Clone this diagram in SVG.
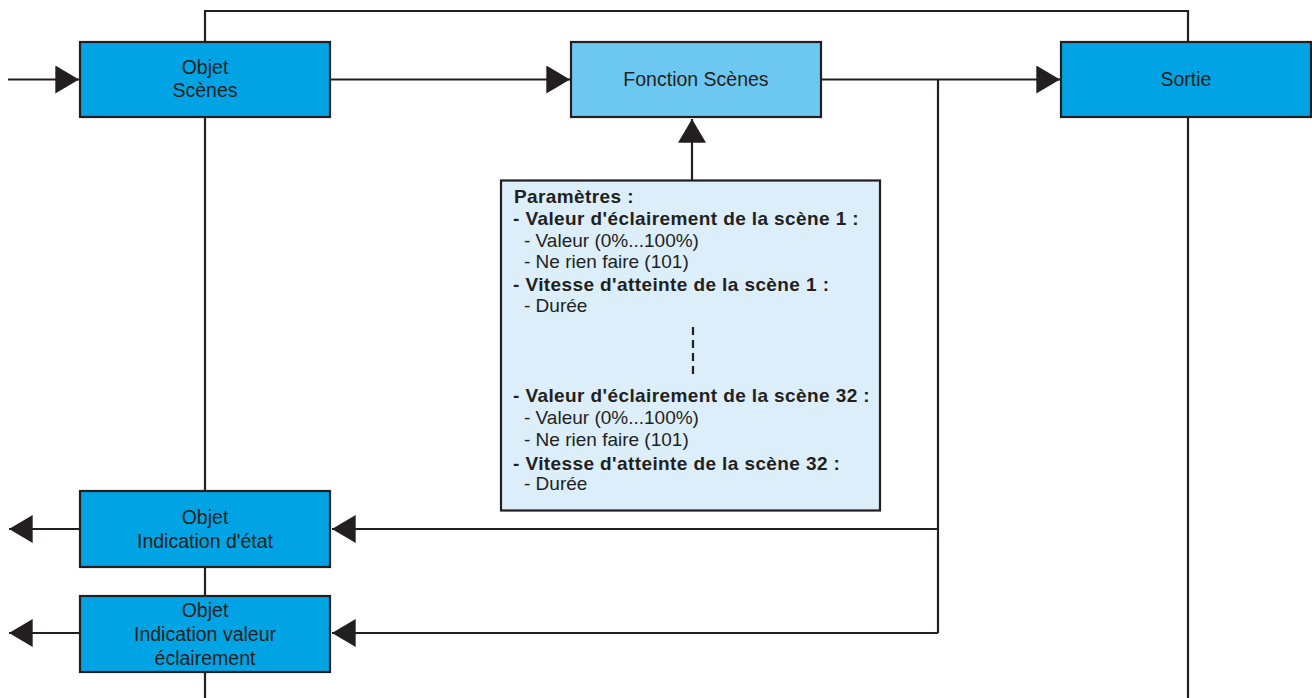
<svg xmlns="http://www.w3.org/2000/svg" width="1312" height="698" viewBox="0 0 1312 698">
<defs>
<style>
.ln{fill:none;stroke:#231F20;stroke-width:2.2}
.box{stroke:#231F20;stroke-width:2.2}
.dark{fill:#00A3E4}
.light{fill:#6DC8F1}
.param{fill:#DCEEFA}
.t{font-family:"Liberation Sans",Arial,sans-serif;font-size:19.5px;fill:#231F20;text-anchor:middle}
.p{font-family:"Liberation Sans",Arial,sans-serif;font-size:19px;fill:#231F20}
.b{font-weight:bold;letter-spacing:0.4px}
</style>
<marker id="arr" markerUnits="userSpaceOnUse" markerWidth="24" markerHeight="28" viewBox="0 0 22 26" refX="22" refY="13" orient="auto">
<path d="M0,0 L22,13 L0,26 Z" fill="#231F20"/>
</marker>
</defs>
<rect width="1312" height="698" fill="#FFFFFF"/>
<g id="connectors">
<path class="ln" d="M205,698 V11 H1188 V698"/>
<path class="ln" d="M8,79.5 H79" marker-end="url(#arr)"/>
<path class="ln" d="M330,79.5 H570" marker-end="url(#arr)"/>
<path class="ln" d="M821,79.5 H1060" marker-end="url(#arr)"/>
<path class="ln" d="M938,79.5 V633"/>
<path class="ln" d="M938,529 H332" marker-end="url(#arr)"/>
<path class="ln" d="M938,633 H332" marker-end="url(#arr)"/>
<path class="ln" d="M80,529 H9" marker-end="url(#arr)"/>
<path class="ln" d="M80,633 H9" marker-end="url(#arr)"/>
<path class="ln" d="M692,180 V119" marker-end="url(#arr)"/>
</g>
<g id="objet-scenes">
<rect class="box dark" x="80" y="42" width="250" height="75"/>
<text class="t" x="205" y="74">Objet</text>
<text class="t" x="205" y="97">Scènes</text>
</g>
<g id="fonction-scenes">
<rect class="box light" x="571" y="42" width="250" height="75"/>
<text class="t" x="696" y="86">Fonction Scènes</text>
</g>
<g id="sortie">
<rect class="box dark" x="1061" y="42" width="250" height="75"/>
<text class="t" x="1186" y="86">Sortie</text>
</g>
<g id="parametres">
<rect class="box param" x="501" y="180.5" width="379" height="330"/>
<text class="p b" x="514" y="202.5">Paramètres :</text>
<text class="p b" x="513" y="225">- Valeur d'éclairement de la scène 1 :</text>
<text class="p" x="524" y="246.5">- Valeur (0%...100%)</text>
<text class="p" x="524" y="268">- Ne rien faire (101)</text>
<text class="p b" x="513" y="291">- Vitesse d'atteinte de la scène 1 :</text>
<text class="p" x="524" y="311.5">- Durée</text>
<path d="M693,327 V375" fill="none" stroke="#231F20" stroke-width="2.2" stroke-dasharray="8,5"/>
<text class="p b" x="513" y="401.5">- Valeur d'éclairement de la scène 32 :</text>
<text class="p" x="524" y="424">- Valeur (0%...100%)</text>
<text class="p" x="524" y="446">- Ne rien faire (101)</text>
<text class="p b" x="513" y="469.5">- Vitesse d'atteinte de la scène 32 :</text>
<text class="p" x="524" y="490">- Durée</text>
</g>
<g id="indication-etat">
<rect class="box dark" x="80" y="491" width="250" height="76"/>
<text class="t" x="205" y="523.5">Objet</text>
<text class="t" x="205" y="548">Indication d'état</text>
</g>
<g id="indication-valeur">
<rect class="box dark" x="80" y="596" width="250" height="76"/>
<text class="t" x="205" y="616.5">Objet</text>
<text class="t" x="205" y="641">Indication valeur</text>
<text class="t" x="205" y="664.5">éclairement</text>
</g>
</svg>
